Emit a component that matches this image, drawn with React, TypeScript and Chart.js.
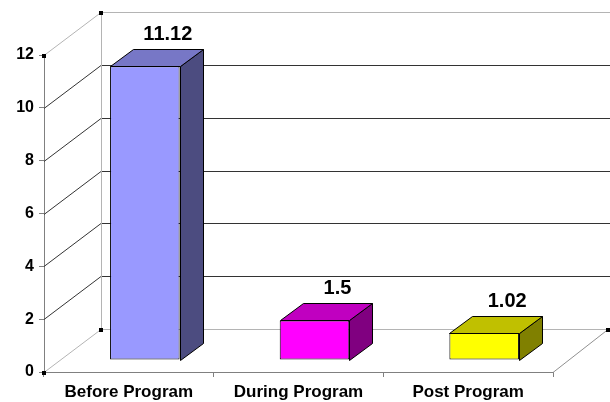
import React, { useEffect, useRef } from "react";
import { Chart, registerables } from "chart.js";

Chart.register(...registerables);

// Chart data
const categories = ["Before Program", "During Program", "Post Program"];
const values = [11.12, 1.5, 1.02];
const yMin = 0;
const yMax = 12;
const yStep = 2;

// Face colours for the 3D boxes
const frontColors = ["#9999FF", "#FF00FF", "#FFFF00"];
const topColors = ["#7777C6", "#C000C0", "#C0C000"];
const sideColors = ["#4C4C80", "#800080", "#808000"];

// 3D geometry (pixels)
const WALL_DX = 57;
const WALL_DY = 43;
const BAR_SHIFT_X = 16;
const BAR_SHIFT_Y = 12;
const BAR_DX = 23;
const BAR_DY = 17;
const LABEL_GAP = 26;

const FONT = '"Liberation Sans", Arial, sans-serif';

const threeD = {
  id: "threeD",
  beforeDatasetsDraw(chart: any) {
    const { ctx, chartArea: a, scales } = chart;
    const y = scales.y;
    ctx.save();
    ctx.lineWidth = 1;
    const backRight = a.right + WALL_DX;
    // side wall + back wall grid lines
    y.ticks.forEach((t: any) => {
      const v = t.value;
      const py = Math.round(y.getPixelForValue(v)) + 0.5;
      const edge = v === yMin || v === yMax;
      ctx.strokeStyle = edge ? "#b4b4b4" : "#333333";
      ctx.beginPath();
      ctx.moveTo(a.left, py);
      ctx.lineTo(a.left + WALL_DX, py - WALL_DY);
      ctx.lineTo(backRight, py - WALL_DY);
      ctx.stroke();
    });
    const top = Math.round(y.getPixelForValue(yMax)) + 0.5;
    const bottom = Math.round(y.getPixelForValue(yMin)) + 0.5;
    // back wall left edge
    ctx.strokeStyle = "#b4b4b4";
    ctx.beginPath();
    ctx.moveTo(a.left + WALL_DX + 0.5, top - WALL_DY);
    ctx.lineTo(a.left + WALL_DX + 0.5, bottom - WALL_DY);
    ctx.stroke();
    // floor right edge
    ctx.strokeStyle = "#909090";
    ctx.beginPath();
    ctx.moveTo(a.right, bottom);
    ctx.lineTo(backRight - 2, bottom - WALL_DY);
    ctx.stroke();
    // corner handles
    ctx.fillStyle = "#000000";
    const handles = [
      [a.left + WALL_DX, top - WALL_DY],
      [a.left + WALL_DX, bottom - WALL_DY],
      [backRight - 2, bottom - WALL_DY],
      [a.left, top],
      [a.left, bottom],
    ];
    handles.forEach(([hx, hy]) => ctx.fillRect(Math.round(hx) - 2, Math.round(hy) - 2, 4, 4));
    ctx.restore();

    ctx.save();
    ctx.translate(BAR_SHIFT_X, -BAR_SHIFT_Y);
  },
  afterDatasetsDraw(chart: any) {
    const { ctx } = chart;
    const meta = chart.getDatasetMeta(0);
    ctx.lineWidth = 1;
    ctx.strokeStyle = "#000000";
    ctx.lineJoin = "miter";
    meta.data.forEach((bar: any, i: number) => {
      const { x, y, base, width } = bar.getProps(["x", "y", "base", "width"], true);
      const l = Math.round(x - width / 2) + 0.5;
      const r = Math.round(x + width / 2) + 0.5;
      const t = Math.round(y) + 0.5;
      const b = Math.round(base) + 0.5;
      // side face
      ctx.fillStyle = sideColors[i];
      ctx.beginPath();
      ctx.moveTo(r, t);
      ctx.lineTo(r + BAR_DX, t - BAR_DY);
      ctx.lineTo(r + BAR_DX, b - BAR_DY);
      ctx.lineTo(r, b);
      ctx.closePath();
      ctx.fill();
      ctx.stroke();
      // top face
      ctx.fillStyle = topColors[i];
      ctx.beginPath();
      ctx.moveTo(l, t);
      ctx.lineTo(l + BAR_DX, t - BAR_DY);
      ctx.lineTo(r + BAR_DX, t - BAR_DY);
      ctx.lineTo(r, t);
      ctx.closePath();
      ctx.fill();
      ctx.stroke();
      // value label
      ctx.fillStyle = "#000000";
      ctx.font = `bold 20px ${FONT}`;
      ctx.textAlign = "center";
      ctx.textBaseline = "alphabetic";
      ctx.fillText(String(values[i]), x + BAR_DX, y - LABEL_GAP);
    });
    ctx.restore();
  },
};

export default function App() {
  const canvasRef = useRef<HTMLCanvasElement | null>(null);

  useEffect(() => {
    const canvas = canvasRef.current;
    if (!canvas) return;
    const chart = new Chart(canvas, {
      type: "bar",
      data: {
        labels: categories,
        datasets: [
          {
            data: values,
            backgroundColor: frontColors,
            borderColor: "#000000",
            borderWidth: 1,
            borderSkipped: false,
            categoryPercentage: 1,
            barPercentage: 0.41,
            clip: false as any,
          },
        ],
      },
      options: {
        animation: false,
        responsive: false,
        devicePixelRatio: 1,
        layout: { padding: { top: 55, right: 57, left: 0, bottom: 0 } },
        plugins: {
          legend: { display: false },
          tooltip: { enabled: false },
        },
        scales: {
          x: {
            grid: {
              drawOnChartArea: false,
              drawTicks: true,
              tickLength: 5,
              color: "#808080",
            },
            border: { display: true, color: "#808080" },
            ticks: {
              color: "#000000",
              padding: 5,
              font: { family: FONT, size: 17, weight: "bold" },
            },
            afterFit: (scale: any) => {
              scale.height = 30;
            },
          },
          y: {
            min: yMin,
            max: yMax,
            ticks: {
              stepSize: yStep,
              color: "#000000",
              padding: 5,
              font: { family: FONT, size: 16, weight: "bold" },
            },
            grid: {
              drawOnChartArea: false,
              drawTicks: true,
              tickLength: 5,
              color: "#808080",
            },
            border: { display: true, color: "#808080" },
            afterFit: (scale: any) => {
              scale.width = 44;
            },
          },
        },
      },
      plugins: [threeD],
    });
    return () => chart.destroy();
  }, []);

  return (
    <div style={{ position: "absolute", left: 0, top: 0, width: 610, height: 402, background: "#ffffff" }}>
      <canvas ref={canvasRef} width={610} height={402} />
    </div>
  );
}
